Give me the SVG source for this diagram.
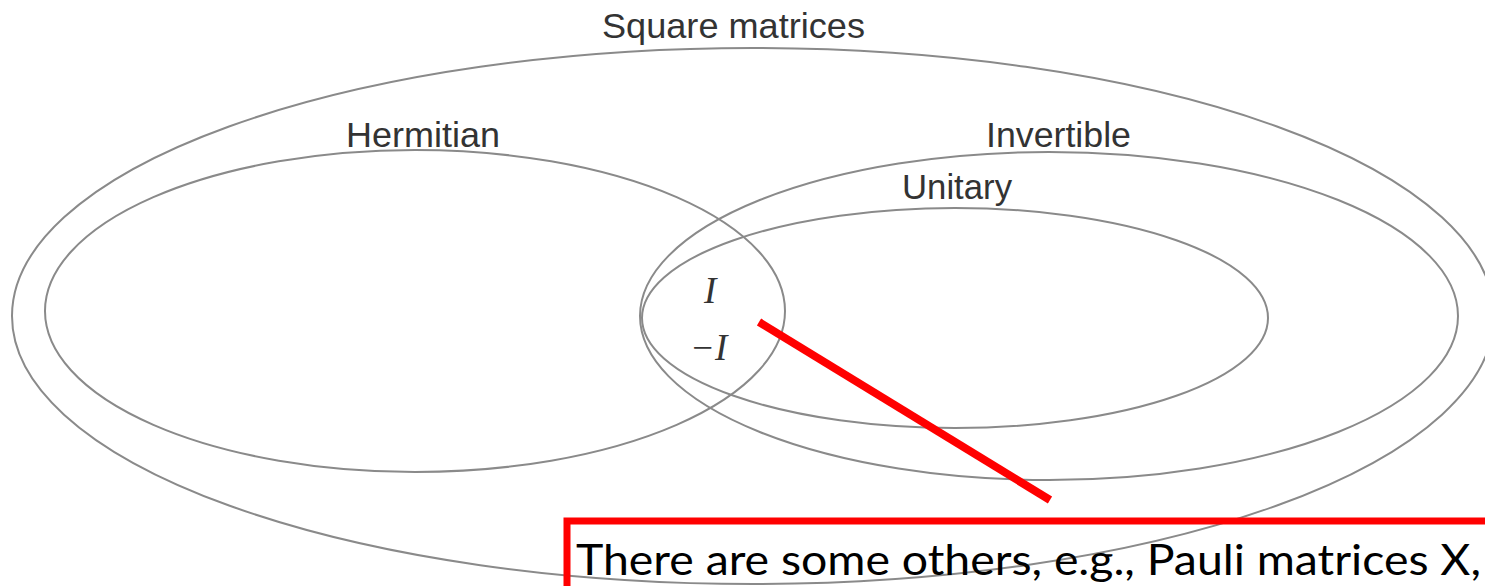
<svg xmlns="http://www.w3.org/2000/svg" width="1485" height="586" viewBox="0 0 1485 586">
<style>
.set{fill:none;stroke:#8a8a8a;stroke-width:2}
.lbl{font-family:"Liberation Sans",Arial,sans-serif;font-size:35px;fill:#333}
.math{font-family:"Liberation Serif","Times New Roman",serif;font-style:italic;font-size:37px;fill:#333}
.note{font-family:Lato,"Open Sans",sans-serif;font-size:42px;fill:#000}
</style>
<rect width="1485" height="586" fill="#fff"/>
<g id="square">
<ellipse class="set" cx="753" cy="316" rx="741" ry="268"/>
<text class="lbl" x="602" y="38" textLength="263" lengthAdjust="spacingAndGlyphs">Square matrices</text>
</g>
<g id="hermitian">
<ellipse class="set" cx="415" cy="311" rx="370" ry="161"/>
<text class="lbl" x="346" y="147" textLength="154" lengthAdjust="spacingAndGlyphs">Hermitian</text>
</g>
<g id="invertible">
<ellipse class="set" cx="1049" cy="316" rx="409" ry="164"/>
<text class="lbl" x="986" y="147" textLength="145" lengthAdjust="spacingAndGlyphs">Invertible</text>
</g>
<g id="unitary">
<ellipse class="set" cx="955" cy="318" rx="313" ry="110"/>
<text class="lbl" x="902" y="199" textLength="110" lengthAdjust="spacingAndGlyphs">Unitary</text>
</g>
<g id="elements">
<text class="math" x="704" y="303">I</text>
<text class="math" x="690" y="360">−I</text>
</g>
<g id="connectors">
<line x1="759" y1="322" x2="1050" y2="500" stroke="#f00" stroke-width="8"/>
</g>
<g id="note">
<rect x="567" y="521" width="1000" height="200" fill="none" stroke="#f00" stroke-width="7"/>
<text class="note" x="576" y="575" textLength="905" lengthAdjust="spacingAndGlyphs">There are some others, e.g., Pauli matrices X,</text>
</g>
</svg>
